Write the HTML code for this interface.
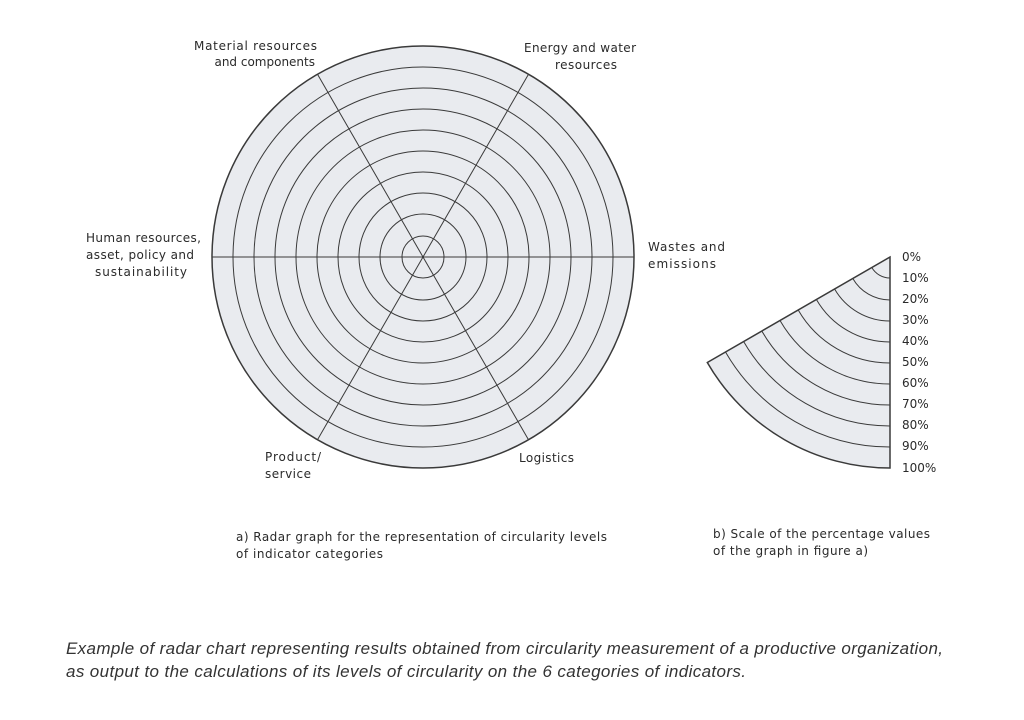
<!DOCTYPE html>
<html><head><meta charset="utf-8"><style>
html,body{margin:0;padding:0;background:#fff;}
svg{display:block}
text{font-family:"DejaVu Sans","Liberation Sans",sans-serif;fill:#2a2a2a;font-size:12px}
.cap{font-family:"Liberation Sans",sans-serif;font-style:italic;font-size:17px;fill:#333}
</style></head><body>
<svg width="1024" height="720" viewBox="0 0 1024 720" xmlns="http://www.w3.org/2000/svg">
<g stroke="#3a3a3a" fill="none" stroke-width="1">
<circle cx="423" cy="257" r="211" fill="#e9ebef" stroke-width="1.5"/>
<circle cx="423" cy="257" r="190"/><circle cx="423" cy="257" r="169"/>
<circle cx="423" cy="257" r="148"/><circle cx="423" cy="257" r="127"/>
<circle cx="423" cy="257" r="106"/><circle cx="423" cy="257" r="85"/>
<circle cx="423" cy="257" r="64"/><circle cx="423" cy="257" r="43"/>
<circle cx="423" cy="257" r="21"/>
<line x1="212" y1="257" x2="634" y2="257"/>
<line x1="317.5" y1="74.3" x2="528.5" y2="439.7"/>
<line x1="528.5" y1="74.3" x2="317.5" y2="439.7"/>
<path d="M890 257 L707.3 362.5 A211 211 0 0 0 890 468 Z" fill="#e9ebef" stroke-width="1.5"/>
<path d="M871.8 267.5 A21 21 0 0 0 890 278"/>
<path d="M852.8 278.5 A43 43 0 0 0 890 300"/>
<path d="M834.6 289 A64 64 0 0 0 890 321"/>
<path d="M816.4 299.5 A85 85 0 0 0 890 342"/>
<path d="M798.2 310 A106 106 0 0 0 890 363"/>
<path d="M780 320.5 A127 127 0 0 0 890 384"/>
<path d="M761.8 331 A148 148 0 0 0 890 405"/>
<path d="M743.6 341.5 A169 169 0 0 0 890 426"/>
<path d="M725.5 352 A190 190 0 0 0 890 447"/>
</g>
<text x="194" y="50" textLength="123">Material resources</text>
<text x="315" y="66" text-anchor="end">and components</text>
<text x="524" y="52" textLength="112">Energy and water</text>
<text x="555" y="69" textLength="62">resources</text>
<text x="86" y="242" textLength="115">Human resources,</text>
<text x="86" y="259" textLength="108">asset, policy and</text>
<text x="95" y="276" textLength="92">sustainability</text>
<text x="648" y="251" textLength="77">Wastes and</text>
<text x="648" y="268" textLength="68">emissions</text>
<text x="265" y="461" textLength="56">Product/</text>
<text x="265" y="478" textLength="46">service</text>
<text x="519" y="462" textLength="55">Logistics</text>
<g font-size="11.5">
<text x="902" y="261">0%</text><text x="902" y="282">10%</text><text x="902" y="303">20%</text>
<text x="902" y="324">30%</text><text x="902" y="345">40%</text><text x="902" y="366">50%</text>
<text x="902" y="387">60%</text><text x="902" y="408">70%</text><text x="902" y="429">80%</text>
<text x="902" y="450">90%</text><text x="902" y="472">100%</text>
</g>
<text x="236" y="541" textLength="371">a) Radar graph for the representation of circularity levels</text>
<text x="236" y="558" textLength="147">of indicator categories</text>
<text x="713" y="538" textLength="217">b) Scale of the percentage values</text>
<text x="713" y="555" textLength="155">of the graph in figure a)</text>
<text class="cap" x="66" y="654" textLength="877">Example of radar chart representing results obtained from circularity measurement of a productive organization,</text>
<text class="cap" x="66" y="677" textLength="680">as output to the calculations of its levels of circularity on the 6 categories of indicators.</text>
</svg>
</body></html>
